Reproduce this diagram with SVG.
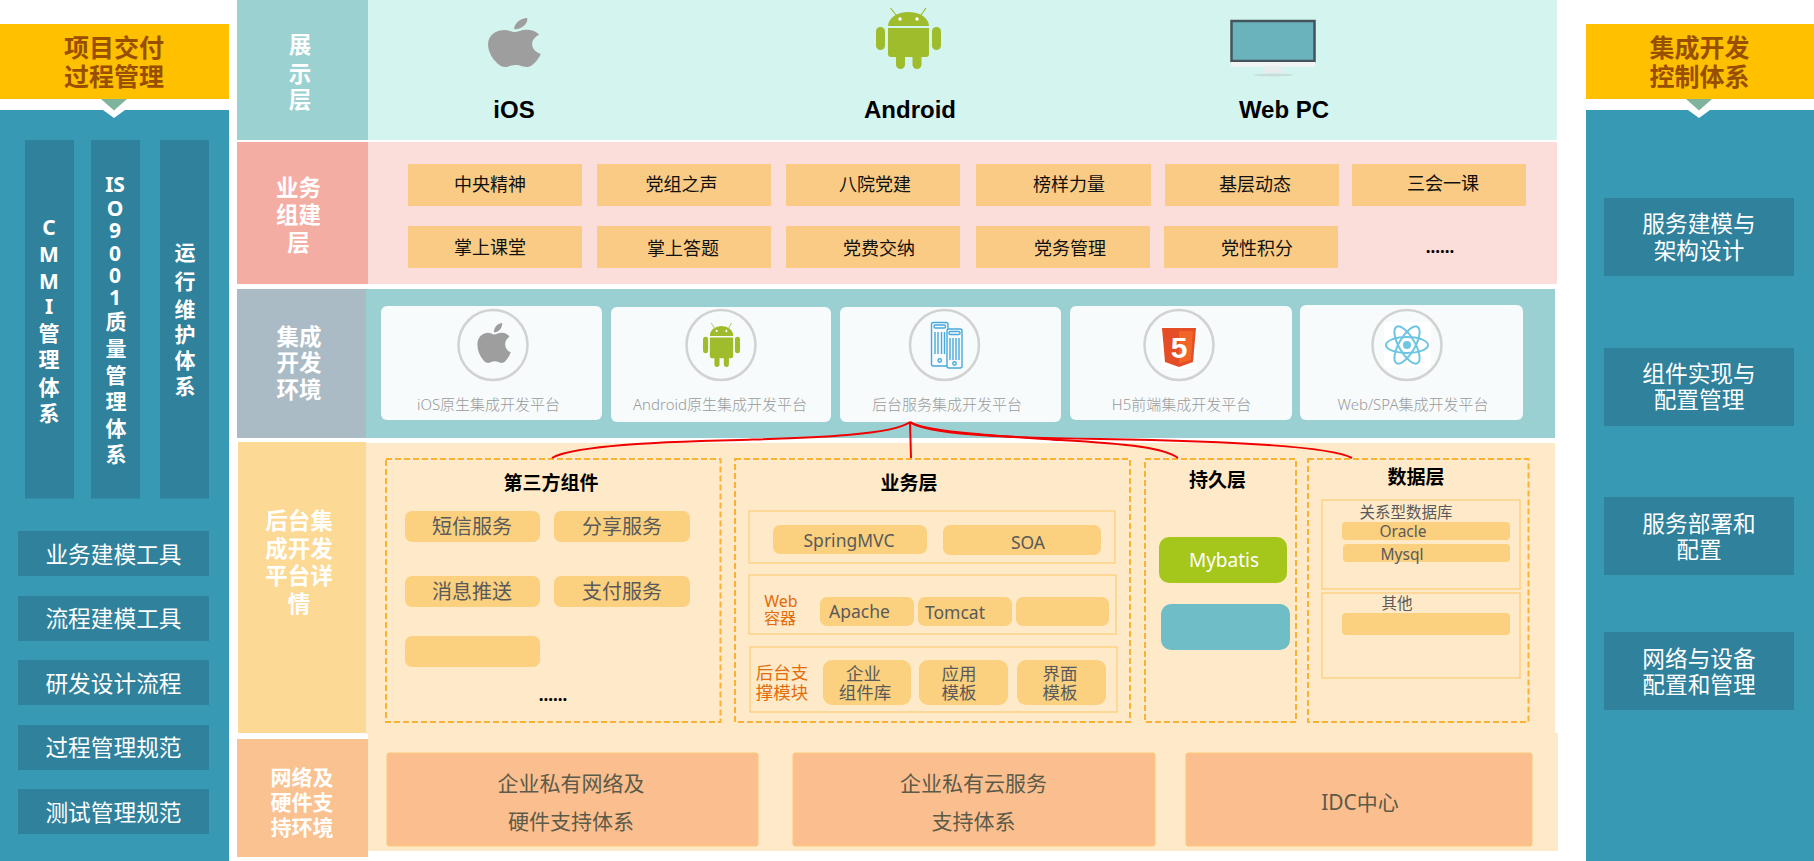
<svg xmlns="http://www.w3.org/2000/svg" xmlns:xlink="http://www.w3.org/1999/xlink" width="1814" height="861" viewBox="0 0 1814 861">
<style>
text{font-family:"Noto Sans","Noto Sans CJK SC",sans-serif;text-anchor:middle;dominant-baseline:central}
.hd{font-size:25px;font-weight:700;fill:#984F00}
.lb{font-size:22.500px;font-weight:700;fill:#fff}
.lb2{font-size:21px;font-weight:700;fill:#fff}
.vt{font-size:21px;font-weight:700;fill:#fff}
.wt{font-size:22.700px;fill:#fff}
.bar{fill:#2F819C}
.panel{fill:#3899B5}
.os{font-family:"Liberation Sans",sans-serif;font-size:24px;font-weight:700;fill:#000}
.og{fill:#F9CB85}
.ot{font-size:18px;fill:#111}
.card{fill:#F7FBFC}
.ring{fill:none;stroke:#D2D2D2;stroke-width:2.500}
.ct{font-size:15px;font-weight:300;fill:#9A9A9A}
.dash{fill:none;stroke:#F9B233;stroke-width:2;stroke-dasharray:6 3}
.ti{font-size:19px;font-weight:700;fill:#000}
.pill{fill:#FBD07E}
.pt{font-size:20px;fill:#5A5A5A}
.pm{font-size:17.500px;fill:#5A5A5A}
.ps{font-size:15.500px;fill:#5A5A5A}
.sub{fill:none;stroke:#FBC566;stroke-width:1}
.or{font-size:16px;fill:#E36C0A}
.or2{font-size:17.500px;fill:#E36C0A}
.bb{fill:#FBBF8F;stroke:#FDC877;stroke-width:1}
.bt{font-size:21px;fill:#5C5A48}
.rd{fill:none;stroke:#F00000;stroke-width:2}
.dot{font-size:17px;font-weight:700;fill:#000}
.gr{fill:#9E9E9E}
.ad{fill:#9EBC2B}
.sv{fill:none;stroke:#4AA8DC;stroke-width:1.400}
.at{fill:none;stroke:#6FC6E2;stroke-width:2}
</style>
<defs>
<path id="apple" d="M18.71 19.5c-.83 1.24-1.71 2.45-3.05 2.47-1.34.03-1.77-.79-3.29-.79-1.53 0-2 .77-3.27.82-1.31.05-2.3-1.32-3.14-2.53C4.25 17 2.94 12.45 4.7 9.39c.87-1.52 2.43-2.48 4.12-2.51 1.28-.02 2.5.87 3.29.87.78 0 2.26-1.07 3.81-.91.65.03 2.47.26 3.64 1.98-.09.06-2.17 1.28-2.15 3.81.03 3.02 2.65 4.03 2.68 4.04-.03.07-.42 1.44-1.38 2.83M13 3.5c.73-.83 1.94-1.46 2.94-1.5.13 1.17-.34 2.35-1.04 3.19-.69.85-1.83 1.51-2.95 1.42-.15-1.15.41-2.35 1.05-3.11z"/>
<g id="android">
<rect class="ad" x="0" y="19" width="9" height="23" rx="4.500"/>
<rect class="ad" x="56" y="19" width="9" height="23" rx="4.500"/>
<path class="ad" d="M12 20h41v26a3 3 0 0 1-3 3H15a3 3 0 0 1-3-3z"/>
<path class="ad" d="M12 18a20.500 14 0 0 1 41 0z"/>
<rect class="ad" x="20" y="45" width="9" height="16" rx="4.500"/>
<rect class="ad" x="36.500" y="45" width="9" height="16" rx="4.500"/>
<path d="M20 7L14.500 0M45 7L50 0" fill="none" stroke="#9EBC2B" stroke-width="1.200"/>
<circle cx="24" cy="11" r="1.700" fill="#fff"/>
<circle cx="41" cy="11" r="1.700" fill="#fff"/>
</g>
</defs>

<g id="left-panel">
<rect x="0" y="24" width="229" height="75" fill="#FFC000"/>
<text class="hd"><tspan x="114" y="47">项目交付</tspan><tspan x="114" y="76">过程管理</tspan></text>
<rect class="panel" x="0" y="110" width="229" height="751"/>
<polygon points="103,110 125,110 114,118" fill="#fff"/>
<polygon points="101,99 127,99 114,110.500" fill="#7FB39B"/>
</g>
<g id="left-cmmi">
<rect class="bar" x="25" y="140" width="49" height="358.500"/>
<text class="vt"><tspan x="49" y="227">C</tspan><tspan x="49" y="254">M</tspan><tspan x="49" y="281">M</tspan><tspan x="49" y="306">I</tspan><tspan x="49" y="333">管</tspan><tspan x="49" y="359">理</tspan><tspan x="49" y="387">体</tspan><tspan x="49" y="413">系</tspan></text>
</g>
<g id="left-iso">
<rect class="bar" x="91" y="140" width="49" height="358.500"/>
<text class="vt"><tspan x="115" y="184">IS</tspan><tspan x="115" y="208">O</tspan><tspan x="115" y="230">9</tspan><tspan x="115" y="253">0</tspan><tspan x="115" y="275">0</tspan><tspan x="115" y="297">1</tspan><tspan x="116" y="321">质</tspan><tspan x="116" y="348">量</tspan><tspan x="116" y="375">管</tspan><tspan x="116" y="401">理</tspan><tspan x="116" y="428">体</tspan><tspan x="116" y="454">系</tspan></text>
</g>
<g id="left-ops">
<rect class="bar" x="160" y="140" width="49" height="358.500"/>
<text class="vt"><tspan x="185" y="252">运</tspan><tspan x="185" y="281">行</tspan><tspan x="185" y="309">维</tspan><tspan x="185" y="334">护</tspan><tspan x="185" y="360">体</tspan><tspan x="185" y="386">系</tspan></text>
</g>
<g id="left-t1"><rect class="bar" x="18" y="531" width="191" height="45"/><text class="wt" x="113.500" y="554">业务建模工具</text></g>
<g id="left-t2"><rect class="bar" x="18" y="596" width="191" height="45"/><text class="wt" x="113.500" y="618">流程建模工具</text></g>
<g id="left-t3"><rect class="bar" x="18" y="660" width="191" height="45"/><text class="wt" x="113.500" y="683">研发设计流程</text></g>
<g id="left-t4"><rect class="bar" x="18" y="725" width="191" height="45"/><text class="wt" x="113.500" y="747">过程管理规范</text></g>
<g id="left-t5"><rect class="bar" x="18" y="789" width="191" height="45"/><text class="wt" x="113.500" y="812">测试管理规范</text></g>

<g id="right-panel">
<rect x="1586" y="24" width="228" height="75" fill="#FFC000"/>
<text class="hd"><tspan x="1699.500" y="47">集成开发</tspan><tspan x="1699.500" y="76">控制体系</tspan></text>
<rect class="panel" x="1586" y="110" width="228" height="751"/>
<polygon points="1688,110 1710,110 1699,118" fill="#fff"/>
<polygon points="1686,99 1712,99 1699,110.500" fill="#7FB39B"/>
</g>
<g id="right-r1"><rect class="bar" x="1604" y="198" width="190" height="78"/><text class="wt"><tspan x="1699" y="223">服务建模与</tspan><tspan x="1699" y="250">架构设计</tspan></text></g>
<g id="right-r2"><rect class="bar" x="1604" y="348" width="190" height="78"/><text class="wt"><tspan x="1699" y="373">组件实现与</tspan><tspan x="1699" y="399">配置管理</tspan></text></g>
<g id="right-r3"><rect class="bar" x="1604" y="497" width="190" height="78"/><text class="wt"><tspan x="1699" y="523">服务部署和</tspan><tspan x="1699" y="549">配置</tspan></text></g>
<g id="right-r4"><rect class="bar" x="1604" y="632" width="190" height="78"/><text class="wt"><tspan x="1699" y="658">网络与设备</tspan><tspan x="1699" y="684">配置和管理</tspan></text></g>

<g id="layer-display">
<rect x="237" y="0" width="131" height="140" fill="#9CD1D1"/>
<rect x="368" y="0" width="1189" height="140" fill="#D4F4EF"/>
<text class="lb"><tspan x="300" y="44">展</tspan><tspan x="300" y="73">示</tspan><tspan x="300" y="99">层</tspan></text>
</g>
<g id="display-ios">
<use xlink:href="#apple" href="#apple" class="gr" transform="translate(475.500,13.100) scale(3.250,2.450)"/>
<text class="os" x="514" y="109">iOS</text>
</g>
<g id="display-android">
<use xlink:href="#android" href="#android" transform="translate(876,8)"/>
<text class="os" x="910" y="109">Android</text>
</g>
<g id="display-web">
<rect x="1231.500" y="21" width="83" height="40" fill="#6AB3BC" stroke="#44545A" stroke-width="2.500"/>
<rect x="1231" y="62" width="84" height="4.500" fill="#F2F4F4"/>
<polygon points="1265,66.500 1281,66.500 1283,73 1263.500,73" fill="#E9ECEC"/>
<ellipse cx="1273.500" cy="75" rx="20" ry="1.500" fill="#C9DEDB"/>
<text class="os" x="1284" y="109">Web PC</text>
</g>

<g id="layer-business">
<rect x="237" y="142" width="131" height="142" fill="#F3ADA3"/>
<rect x="368" y="142" width="1189" height="142" fill="#FBDEDA"/>
<text class="lb"><tspan x="298.500" y="187">业务</tspan><tspan x="298.500" y="214">组建</tspan><tspan x="298.500" y="242">层</tspan></text>
</g>
<g id="b1"><rect class="og" x="408" y="164" width="174" height="42"/><text class="ot" x="490" y="184">中央精神</text></g>
<g id="b2"><rect class="og" x="597" y="164" width="174" height="42"/><text class="ot" x="681.500" y="184">党组之声</text></g>
<g id="b3"><rect class="og" x="786" y="164" width="174" height="42"/><text class="ot" x="875" y="184">八院党建</text></g>
<g id="b4"><rect class="og" x="976" y="164" width="175" height="42"/><text class="ot" x="1069" y="184">榜样力量</text></g>
<g id="b5"><rect class="og" x="1165" y="164" width="174" height="42"/><text class="ot" x="1255" y="184">基层动态</text></g>
<g id="b6"><rect class="og" x="1352" y="164" width="174" height="42"/><text class="ot" x="1443" y="183">三会一课</text></g>
<g id="b7"><rect class="og" x="408" y="226" width="174" height="42"/><text class="ot" x="490" y="247">掌上课堂</text></g>
<g id="b8"><rect class="og" x="597" y="226" width="174" height="42"/><text class="ot" x="683" y="248">掌上答题</text></g>
<g id="b9"><rect class="og" x="786" y="226" width="174" height="42"/><text class="ot" x="879" y="248">党费交纳</text></g>
<g id="b10"><rect class="og" x="976" y="226" width="174" height="42"/><text class="ot" x="1070" y="248">党务管理</text></g>
<g id="b11"><rect class="og" x="1164" y="226" width="174" height="42"/><text class="ot" x="1257" y="248">党性积分</text></g>
<text class="dot" x="1440" y="246">......</text>

<g id="layer-env">
<rect x="237" y="289" width="129" height="149" fill="#ABBBC5"/>
<rect x="366" y="289" width="1189" height="149" fill="#9AD0D1"/>
<text class="lb"><tspan x="299" y="336">集成</tspan><tspan x="299" y="362">开发</tspan><tspan x="299" y="389">环境</tspan></text>
</g>
<g id="card-ios">
<rect class="card" x="381" y="306" width="221" height="114" rx="6"/>
<ellipse class="ring" cx="493" cy="345" rx="34.500" ry="35"/>
<use xlink:href="#apple" href="#apple" class="gr" transform="translate(469.500,319) scale(2.050,2)"/>
<text class="ct" x="488.500" y="404">iOS原生集成开发平台</text>
</g>
<g id="card-android">
<rect class="card" x="611" y="307" width="220" height="115" rx="6"/>
<ellipse class="ring" cx="721" cy="345" rx="34.500" ry="35"/>
<use xlink:href="#android" href="#android" transform="translate(703,323) scale(0.570,0.720)"/>
<text class="ct" x="720" y="404">Android原生集成开发平台</text>
</g>
<g id="card-backend">
<rect class="card" x="840" y="307" width="221" height="115" rx="6"/>
<ellipse class="ring" cx="944.500" cy="345" rx="34.500" ry="35"/>
<rect class="sv" x="931.500" y="322.500" width="16.500" height="43.500" rx="2"/>
<rect class="sv" x="934" y="325" width="11.500" height="3" rx="1.200"/>
<path class="sv" d="M935 332v22M938 332v22M941.500 332v22M944.500 332v22"/>
<circle class="sv" cx="939.700" cy="360.500" r="1.700"/>
<rect class="card" x="947" y="328.500" width="15" height="40" rx="2"/>
<rect class="sv" x="947" y="329" width="15" height="39" rx="2"/>
<rect class="sv" x="949" y="331.500" width="11" height="3" rx="1.200"/>
<path class="sv" d="M950 338v22M953 338v22M956 338v22M959 338v22"/>
<circle class="sv" cx="954.500" cy="363.500" r="1.700"/>
<text class="ct" x="947" y="404">后台服务集成开发平台</text>
</g>
<g id="card-h5">
<rect class="card" x="1070" y="306" width="222" height="114" rx="6"/>
<ellipse class="ring" cx="1179" cy="345" rx="34.500" ry="35"/>
<rect x="1161" y="327" width="36" height="42" fill="#fff"/>
<polygon points="1162,328 1196,328 1193,362 1179,367 1165,362" fill="#E44D26"/>
<polygon points="1179,331 1193,331 1191,360 1179,364" fill="#F16529"/>
<text x="1179" y="347" font-size="30" font-weight="700" fill="#fff" style="font-family:'Liberation Sans',sans-serif">5</text>
<text class="ct" x="1181.500" y="404">H5前端集成开发平台</text>
</g>
<g id="card-spa">
<rect class="card" x="1300" y="305" width="223" height="115" rx="6"/>
<ellipse class="ring" cx="1407" cy="345" rx="34.500" ry="35"/>
<rect x="1384" y="322" width="47" height="46" fill="#fff"/>
<ellipse class="at" cx="1407" cy="345" rx="21" ry="8"/>
<ellipse class="at" cx="1407" cy="345" rx="21" ry="8" transform="rotate(60 1407 345)"/>
<ellipse class="at" cx="1407" cy="345" rx="21" ry="8" transform="rotate(120 1407 345)"/>
<circle cx="1407" cy="345" r="4" fill="#6FC6E2"/>
<text class="ct" x="1413" y="404">Web/SPA集成开发平台</text>
</g>

<g id="layer-backend">
<rect x="238" y="442" width="128" height="291" fill="#FCD995"/>
<rect x="366" y="443" width="1189" height="291" fill="#FEEAC8"/>
<text class="lb"><tspan x="299" y="520">后台集</tspan><tspan x="299" y="548">成开发</tspan><tspan x="299" y="575">平台详</tspan><tspan x="299" y="603">情</tspan></text>
</g>
<g id="layer-net">
<rect x="368" y="733" width="1190" height="118" fill="#FEEAC8"/>
<rect x="237" y="739" width="131" height="118" fill="#FAC191"/>
<text class="lb2"><tspan x="302" y="777">网络及</tspan><tspan x="302" y="802">硬件支</tspan><tspan x="302" y="827">持环境</tspan></text>
</g>

<g id="box-third">
<rect class="dash" x="386" y="459" width="334.500" height="263"/>
<text class="ti" x="551" y="483">第三方组件</text>
<rect class="pill" x="405" y="511" width="135" height="31" rx="7"/><text class="pt" x="472" y="526">短信服务</text>
<rect class="pill" x="554" y="511" width="136" height="31" rx="7"/><text class="pt" x="622" y="526">分享服务</text>
<rect class="pill" x="405" y="576" width="135" height="31" rx="7"/><text class="pt" x="472" y="591">消息推送</text>
<rect class="pill" x="554" y="576" width="136" height="31" rx="7"/><text class="pt" x="622" y="591">支付服务</text>
<rect class="pill" x="405" y="636" width="135" height="31" rx="7"/>
<text class="dot" x="553" y="694">......</text>
</g>
<g id="box-biz">
<rect class="dash" x="735" y="459" width="395" height="263"/>
<text class="ti" x="909" y="483">业务层</text>
<rect class="sub" x="749" y="511" width="366" height="52"/>
<rect class="pill" x="773" y="525" width="154" height="29" rx="7"/><text class="pm" x="849" y="540">SpringMVC</text>
<rect class="pill" x="943" y="525" width="158" height="30" rx="7"/><text class="pm" x="1028" y="542">SOA</text>
<rect class="sub" x="749" y="575" width="367" height="59"/>
<text class="or"><tspan x="781" y="601">Web</tspan><tspan x="780" y="618">容器</tspan></text>
<rect class="pill" x="820" y="597" width="94" height="29" rx="7"/><text class="pm" x="859.500" y="611">Apache</text>
<rect class="pill" x="918" y="597" width="94" height="29" rx="7"/><text class="pm" x="955" y="612">Tomcat</text>
<rect class="pill" x="1016" y="597" width="93" height="29" rx="7"/>
<rect class="sub" x="750" y="647" width="367" height="65"/>
<text class="or2"><tspan x="782" y="672">后台支</tspan><tspan x="782" y="692">撑模块</tspan></text>
<rect class="pill" x="823" y="660" width="88" height="45" rx="9"/><text class="pm"><tspan x="863.500" y="673">企业</tspan><tspan x="865" y="692">组件库</tspan></text>
<rect class="pill" x="919" y="660" width="89" height="45" rx="9"/><text class="pm"><tspan x="959" y="673">应用</tspan><tspan x="959" y="692">模板</tspan></text>
<rect class="pill" x="1017" y="660" width="89" height="45" rx="9"/><text class="pm"><tspan x="1060" y="673">界面</tspan><tspan x="1060" y="692">模板</tspan></text>
</g>
<g id="box-persist">
<rect class="dash" x="1145" y="459" width="151" height="263"/>
<text class="ti" x="1217.500" y="480">持久层</text>
<rect x="1159" y="537" width="128" height="46" rx="10" fill="#A5C61B"/><text x="1224" y="560" font-size="19" fill="#fff">Mybatis</text>
<rect x="1161" y="604" width="129" height="46" rx="10" fill="#6FBDC6"/>
</g>
<g id="box-data">
<rect class="dash" x="1308" y="459" width="220.500" height="263"/>
<text class="ti" x="1416" y="477">数据层</text>
<rect class="sub" x="1322" y="500" width="198" height="89"/>
<text class="ps" x="1406" y="512">关系型数据库</text>
<rect class="pill" x="1342" y="522" width="168" height="18" rx="4"/><text class="ps" x="1403" y="531">Oracle</text>
<rect class="pill" x="1343" y="544" width="167" height="18" rx="4"/><text class="ps" x="1402" y="554">Mysql</text>
<rect class="sub" x="1322" y="593" width="198" height="85"/>
<text class="ps" x="1397" y="603">其他</text>
<rect class="pill" x="1342" y="613" width="168" height="22" rx="4"/>
</g>

<g id="net-1"><rect class="bb" x="387" y="753" width="371" height="93" rx="2"/><text class="bt"><tspan x="571" y="783">企业私有网络及</tspan><tspan x="571" y="821">硬件支持体系</tspan></text></g>
<g id="net-2"><rect class="bb" x="793" y="753" width="362" height="93" rx="2"/><text class="bt"><tspan x="973.500" y="783">企业私有云服务</tspan><tspan x="973.500" y="821">支持体系</tspan></text></g>
<g id="net-3"><rect class="bb" x="1186" y="753" width="346" height="93" rx="2"/><text class="bt" x="1360" y="802">IDC中心</text></g>

<g id="connectors">
<path class="rd" d="M910 422C892 436 800 438 740 440C640 442 570 447 552 458"/>
<path class="rd" d="M910 422L911 458"/>
<path class="rd" d="M910 422C925 432 1000 436 1060 440C1130 444 1165 448 1178 458"/>
<path class="rd" d="M910 422C925 434 1000 438 1100 439C1230 441 1330 446 1352 458"/>
</g>
</svg>
